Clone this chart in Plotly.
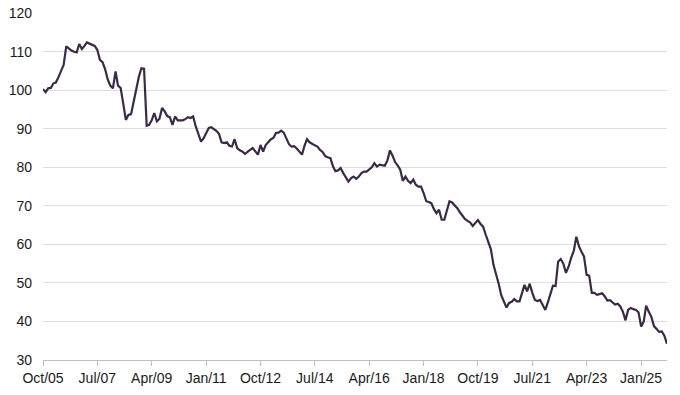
import pandas as pd
import plotly.graph_objects as go

start_month = "2005-10-01"
values = [
    100.3, 99.5, 100.5, 100.6, 101.8, 102.0, 103.4, 104.9, 106.6, 111.4, 110.8, 110.3,
    110.0, 109.8, 112.0, 110.7, 111.5, 112.4, 112.1, 111.9, 111.5, 110.5, 107.9, 107.3,
    105.5, 102.8, 101.2, 100.5, 104.9, 101.2, 100.6, 96.6, 92.3, 93.6, 93.8, 97.0,
    100.5, 103.5, 105.7, 105.6, 90.8, 91.0, 92.2, 94.1, 91.9, 92.6, 95.4, 94.5,
    93.3, 93.0, 91.0, 93.2, 92.2, 92.2, 92.2, 92.5, 93.0, 92.8, 93.2, 90.6,
    88.4, 86.7, 87.5, 89.0, 90.2, 90.4, 90.0, 89.5, 88.7, 86.5, 86.3, 86.5,
    85.6, 85.4, 87.3, 85.0, 84.4, 84.1, 83.5, 83.9, 84.5, 85.0, 84.0, 83.3,
    85.8, 84.1, 85.8, 86.5, 87.3, 87.6, 88.9, 89.0, 89.5, 89.0, 87.5, 86.0,
    85.4, 85.5, 84.9, 84.2, 83.3, 85.5, 87.3, 86.5, 86.0, 85.7, 85.4, 84.5,
    84.0, 82.9, 82.6, 82.4, 80.2, 79.0, 79.2, 79.8, 78.5, 77.3, 76.3, 77.2,
    77.6, 77.0, 77.6, 78.5, 78.9, 78.9, 79.5, 80.0, 81.1, 80.2, 80.7, 80.5,
    80.4, 81.8, 84.4, 83.0, 81.3, 80.5, 79.4, 76.5, 77.6, 76.5, 75.9, 76.8,
    75.5, 75.0, 75.0, 73.3, 71.2, 71.0, 70.7, 69.2, 68.1, 69.0, 66.4, 66.4,
    69.0, 71.2, 70.9, 70.2, 69.4, 68.4, 67.5, 66.6, 66.1, 65.7, 64.8, 65.5,
    66.3, 65.3, 64.6, 62.5, 60.3, 58.8, 54.7, 52.5, 49.8, 46.8, 45.3, 43.6,
    44.8, 45.1, 45.8, 45.2, 45.2, 47.2, 49.5, 47.8, 49.8, 47.5, 45.6, 45.3,
    45.6, 44.3, 43.0, 45.0, 47.5, 49.3, 49.2, 55.5, 56.2, 55.0, 52.6, 54.2,
    56.5, 58.3, 62.0, 59.5, 58.0, 56.9, 52.1, 51.9, 47.4, 47.4, 46.9, 47.2,
    47.3, 46.5, 45.4, 45.5, 44.8, 44.4, 44.6, 43.9, 42.5, 40.3, 43.0, 43.5,
    43.2, 43.0, 42.4, 38.7, 40.0, 44.1, 42.5, 41.2, 38.8, 38.0, 37.3, 37.4,
    36.3, 34.2,
]
dates = pd.date_range(start=start_month, periods=len(values), freq="MS")

tick_dates = ["2005-10-01", "2007-07-01", "2009-04-01", "2011-01-01", "2012-10-01",
              "2014-07-01", "2016-04-01", "2018-01-01", "2019-10-01", "2021-07-01",
              "2023-04-01", "2025-01-01"]
tick_labels = ["Oct/05", "Jul/07", "Apr/09", "Jan/11", "Oct/12", "Jul/14",
               "Apr/16", "Jan/18", "Oct/19", "Jul/21", "Apr/23", "Jan/25"]
y_ticks = [30, 40, 50, 60, 70, 80, 90, 100, 110, 120]

fig = go.Figure()
fig.add_trace(go.Scatter(
    x=dates, y=values, mode="lines",
    line=dict(color="#3b2946", width=2.2),
    hoverinfo="skip", showlegend=False,
))

font = dict(family="Liberation Sans, Arial, sans-serif", size=14, color="#1a1a1a")
fig.update_layout(
    width=680, height=395,
    margin=dict(l=43, r=13, t=13, b=35),
    paper_bgcolor="white", plot_bgcolor="white",
    font=font,
    showlegend=False,
)
fig.update_xaxes(
    range=[dates[0], dates[-1]],
    tickmode="array", tickvals=tick_dates, ticktext=tick_labels,
    showgrid=False, zeroline=False,
    showline=True, linecolor="#bfbfbf", linewidth=1,
    ticks="outside", ticklen=5, tickcolor="#bfbfbf", tickwidth=1,
    tickfont=font, automargin=False, ticklabeloverflow="allow",
)
fig.update_yaxes(
    range=[30, 120.05],
    tickmode="array", tickvals=y_ticks,
    showgrid=True, gridcolor="#dedede", gridwidth=1,
    zeroline=False, showline=False, ticks="",
    ticklabelstandoff=10,
    tickfont=font, automargin=False, ticklabeloverflow="allow",
)

# remove the default 8px page margin so the figure fills the window exactly
fig.write_html(
    "out.html",
    config={"displayModeBar": False, "staticPlot": True},
    post_script="document.body.style.margin='0';document.body.style.overflow='hidden';",
)
